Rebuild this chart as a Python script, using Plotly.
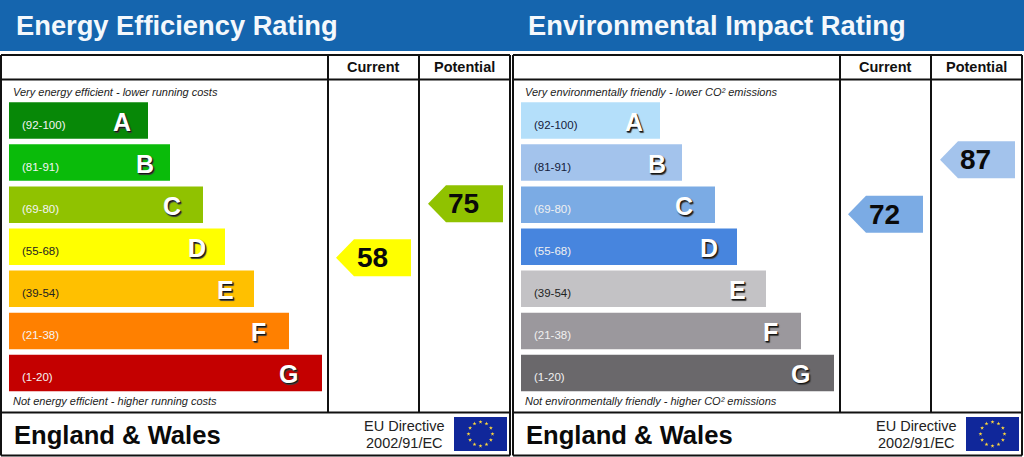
import numpy as np
import plotly.graph_objects as go

# data
LETTERS = ["A", "B", "C", "D", "E", "F", "G"]
BAND_LABELS = ["(92-100)", "(81-91)", "(69-80)", "(55-68)", "(39-54)", "(21-38)", "(1-20)"]
BAND_TOPS = [101, 92, 81, 69, 55, 39, 21]
BAND_BOTTOMS = [92, 81, 69, 55, 39, 21, 1]
BAR_LENGTHS = [139, 161, 194, 216, 245, 280, 313]
ENERGY_COLORS = ["#078807", "#0abb0a", "#90c200", "#ffff00", "#ffc000", "#ff8000", "#c40000"]
ENERGY_LABEL_COLORS = ["#f4f4f4", "#f4f4f4", "#f4f4f4", "#222222", "#222222", "#f4f4f4", "#f4f4f4"]
IMPACT_COLORS = ["#b4dffa", "#a3c3ec", "#7babe4", "#4785de", "#c3c2c5", "#9b989d", "#6a686b"]
IMPACT_LABEL_COLORS = ["#14203a", "#14203a", "#f0f0f0", "#f0f0f0", "#222222", "#f0f0f0", "#f0f0f0"]
LETTER_OFFSETS = [26.5, 25.5, 31.5, 28.5, 28.5, 30.5, 33.5]

ENERGY_CURRENT, ENERGY_POTENTIAL = 58, 75
IMPACT_CURRENT, IMPACT_POTENTIAL = 72, 87

W, H = 1024, 457
FONT = "Liberation Sans"
LINE = "#111111"
ROW0, ROW_STEP = 120.5, 42.08


def band_of(px):
    # page pixel row -> position on the band axis
    return (px - ROW0) / ROW_STEP


def score_row(score):
    # page pixel row of a score, inside its letter band
    for i in range(len(LETTERS)):
        if BAND_BOTTOMS[i] <= score < BAND_TOPS[i]:
            frac = (BAND_TOPS[i] - score) / (BAND_TOPS[i] - BAND_BOTTOMS[i])
            return ROW0 + ROW_STEP * (i - 0.5 + frac) - 1


def score_color(score, colors):
    return colors[[i for i in range(7) if BAND_BOTTOMS[i] <= score][0]]


def frame_line(x0, y0, x1, y1, width=2):
    return dict(type="line", xref="x", yref="paper", x0=x0, x1=x1,
                y0=1 - y0 / H, y1=1 - y1 / H, line=dict(color=LINE, width=width))


def note(x, y, text, size, color="#111111", bold=False, italic=False, anchor="center", shadow=None):
    f = dict(family=FONT, size=size, color=color, weight="bold" if bold else "normal",
             style="italic" if italic else "normal")
    if shadow:
        f["shadow"] = shadow
    if anchor == "left":
        x -= 2  # annotation padding
    return dict(x=x, y=band_of(y), xref="x", yref="y", text=text, showarrow=False,
                xanchor=anchor, yanchor="middle", font=f)


def arrow_trace(left, score, color):
    y = band_of(score_row(score))
    half = 18.5 / ROW_STEP
    return go.Scatter(
        x=[left, left + 18, left + 75, left + 75, left + 18, left],
        y=[y, y - half, y - half, y + half, y + half, y],
        mode="lines", fill="toself", fillcolor=color, line=dict(width=0),
        hoverinfo="skip", showlegend=False,
    )


fig = go.Figure()
shapes = []
annotations = []

# header band
shapes.append(dict(type="rect", xref="paper", yref="paper", x0=0, x1=1,
                   y0=1 - 51 / H, y1=1, fillcolor="#1565ae", line=dict(width=0), layer="below"))

panels = [
    dict(x0=1, base=9, c1=328, c2=419, title="Energy Efficiency Rating", title_x=16,
         top="Very energy efficient - lower running costs",
         bottom="Not energy efficient - higher running costs",
         colors=ENERGY_COLORS, label_colors=ENERGY_LABEL_COLORS,
         current=ENERGY_CURRENT, potential=ENERGY_POTENTIAL),
    dict(x0=513, base=521, c1=840, c2=931, title="Environmental Impact Rating", title_x=528,
         top="Very environmentally friendly - lower CO² emissions",
         bottom="Not environmentally friendly - higher CO² emissions",
         colors=IMPACT_COLORS, label_colors=IMPACT_LABEL_COLORS,
         current=IMPACT_CURRENT, potential=IMPACT_POTENTIAL),
]

angles = np.arange(12) * np.pi / 6

for p in panels:
    base, c1, c2 = p["base"], p["c1"], p["c2"]
    right = p["x0"] + 509

    fig.add_trace(go.Bar(
        x=BAR_LENGTHS, y=list(range(7)), base=base, orientation="h", width=36.5 / ROW_STEP,
        marker=dict(color=p["colors"], line=dict(width=0)),
        hoverinfo="skip", showlegend=False,
    ))

    # arrows for current and potential
    fig.add_trace(arrow_trace(c1 + 8, p["current"], score_color(p["current"], p["colors"])))
    fig.add_trace(arrow_trace(c2 + 9, p["potential"], score_color(p["potential"], p["colors"])))
    annotations.append(note(c1 + 44, score_row(p["current"]), str(p["current"]), 28, "#0a0a0a", bold=True))
    annotations.append(note(c2 + 44, score_row(p["potential"]), str(p["potential"]), 28, "#0a0a0a", bold=True))

    # frame
    shapes.append(frame_line(p["x0"], 55, right, 55))
    shapes.append(frame_line(p["x0"], 79.5, right, 79.5))
    shapes.append(frame_line(p["x0"], 412.5, right, 412.5))
    shapes.append(frame_line(p["x0"], 455.5, right, 455.5))
    shapes.append(frame_line(p["x0"], 55, p["x0"], 455.5))
    shapes.append(frame_line(right, 55, right, 455.5))
    shapes.append(frame_line(c1, 55, c1, 412.5))
    shapes.append(frame_line(c2, 55, c2, 412.5))

    annotations.append(note(p["title_x"], 25.5, p["title"], 27.3, "#f4f8fc", bold=True, anchor="left"))
    annotations.append(note((c1 + c2) / 2, 67, "Current", 14.5, bold=True))
    annotations.append(note((c2 + right) / 2, 67, "Potential", 14.5, bold=True))
    annotations.append(note(p["x0"] + 12, 92, p["top"], 11, "#222222", italic=True, anchor="left"))
    annotations.append(note(p["x0"] + 12, 401, p["bottom"], 11, "#222222", italic=True, anchor="left"))
    annotations.append(note(p["x0"] + 13, 434.5, "England &amp; Wales", 25.6, "#0a0a0a", bold=True, anchor="left"))
    annotations.append(note(p["x0"] + 403.5, 426, "EU Directive", 14.5, "#222222"))
    annotations.append(note(p["x0"] + 403.5, 443, "2002/91/EC", 14.5, "#222222"))

    for i in range(7):
        y = ROW0 + ROW_STEP * i
        annotations.append(note(base + 13, y + 4.5, BAND_LABELS[i], 11.5, p["label_colors"][i], anchor="left"))
        annotations.append(note(base + BAR_LENGTHS[i] - LETTER_OFFSETS[i], y + 1.5, LETTERS[i], 25, "#ffffff", bold=True,
                                shadow="1px 1px 1px #111111, 1.5px 1.5px 1px #444444"))

    # EU flag
    fx0 = p["x0"] + 453
    shapes.append(dict(type="rect", xref="x", yref="paper", x0=fx0, x1=fx0 + 53,
                       y0=1 - 451 / H, y1=1 - 417 / H, fillcolor="#10279a", line=dict(width=0), layer="below"))
    fig.add_trace(go.Scatter(
        x=fx0 + 26.5 + 12 * np.sin(angles),
        y=band_of(434 + 12 * np.cos(angles)),
        mode="markers", marker=dict(symbol="star", size=3, color="#ffd83c", line=dict(width=0)),
        hoverinfo="skip", showlegend=False,
    ))

fig.update_layout(
    width=W, height=H, margin=dict(l=0, r=0, t=0, b=0),
    paper_bgcolor="white", plot_bgcolor="rgba(0,0,0,0)",
    xaxis=dict(range=[0, W], visible=False, fixedrange=True),
    yaxis=dict(range=[band_of(H), band_of(0)], visible=False, fixedrange=True),
    shapes=shapes, annotations=annotations, showlegend=False, barmode="overlay",
)

fig.write_html("out.html", config=dict(displayModeBar=False),
               post_script="document.body.style.margin='0';document.documentElement.style.overflow='hidden';")
